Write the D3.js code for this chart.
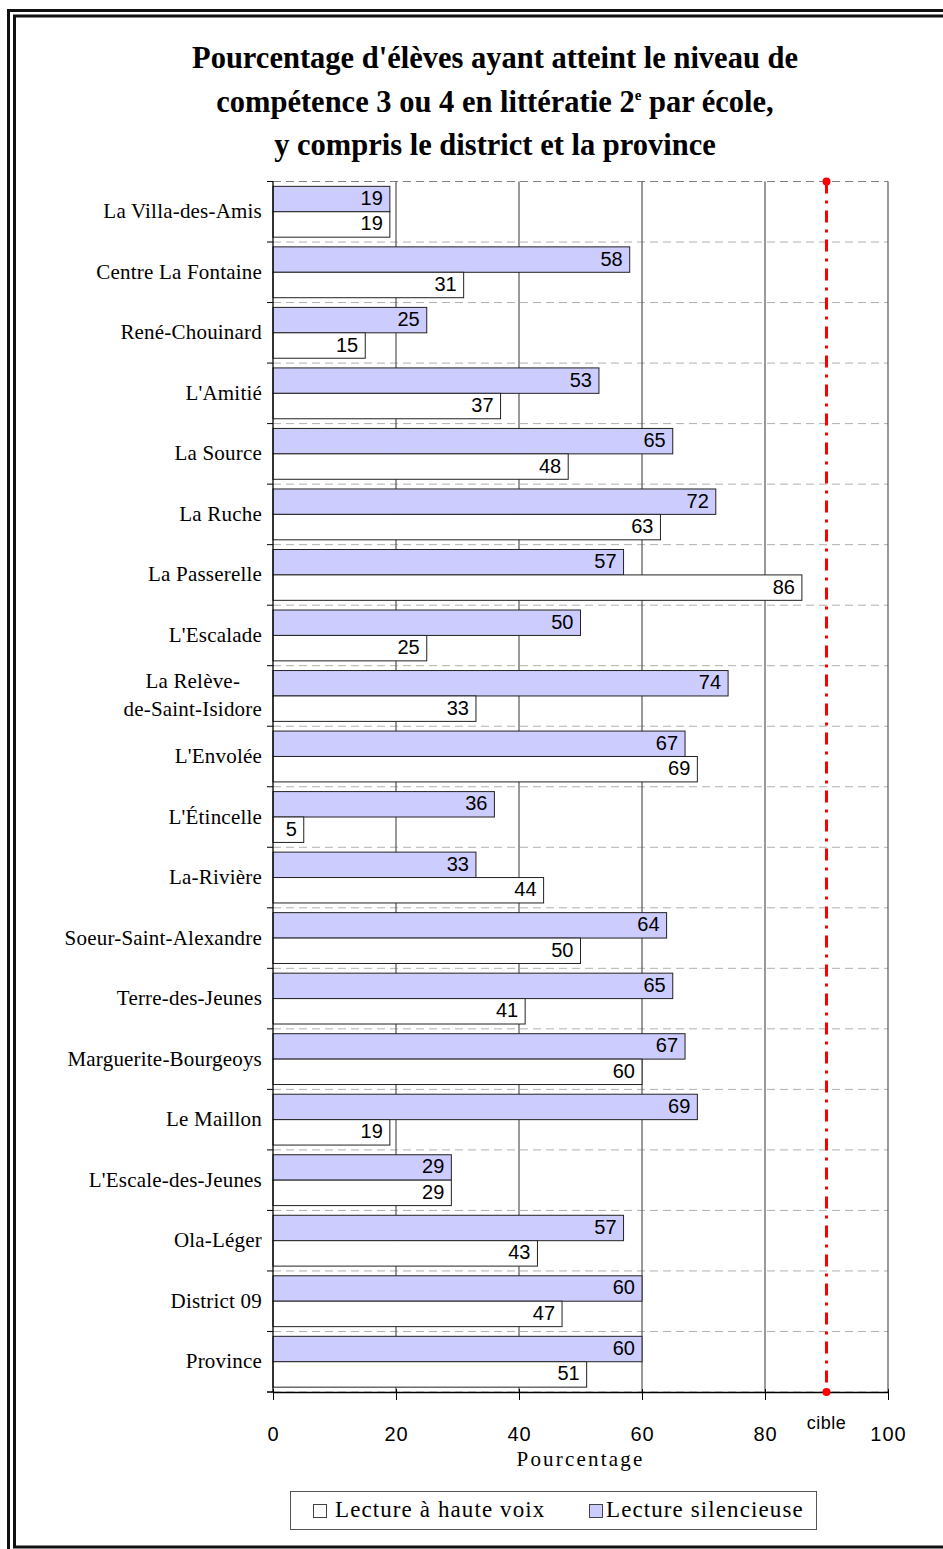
<!DOCTYPE html>
<html>
<head>
<meta charset="utf-8">
<script src="https://cdn.jsdelivr.net/npm/d3@7"></script>
<style>
  body { margin: 0; background: #fff; }
  svg { display: block; }
</style>
</head>
<body>
<div id="chart"></div>
<script>
// schools, then district and province
const categories = [
  "La Villa-des-Amis", "Centre La Fontaine", "René-Chouinard", "L'Amitié",
  "La Source", "La Ruche", "La Passerelle", "L'Escalade",
  "La Relève-\nde-Saint-Isidore", "L'Envolée", "L'Étincelle", "La-Rivière",
  "Soeur-Saint-Alexandre", "Terre-des-Jeunes", "Marguerite-Bourgeoys",
  "Le Maillon", "L'Escale-des-Jeunes", "Ola-Léger", "District 09", "Province"
];
const silentValues = [19, 58, 25, 53, 65, 72, 57, 50, 74, 67, 36, 33, 64, 65, 67, 69, 29, 57, 60, 60];
const loudValues   = [19, 31, 15, 37, 48, 63, 86, 25, 33, 69, 5, 44, 50, 41, 60, 19, 29, 43, 47, 51];
const xTicks = [0, 20, 40, 60, 80, 100];
const targetValue = 90;
const targetLabel = "cible";
const seriesNames = ["Lecture à haute voix", "Lecture silencieuse"];
const axisTitle = "Pourcentage";

const width = 943, height = 1549;
const serif = "'Liberation Serif', 'Times New Roman', serif";
const sans = "'Liberation Sans', Arial, sans-serif";
const blue = "#ccccff";

const svg = d3.select("#chart").append("svg")
  .attr("width", width).attr("height", height);

svg.append("rect").attr("width", width).attr("height", height).attr("fill", "#fff");

// double frame (runs off the right edge like the original)
svg.append("rect").attr("x", 8.5).attr("y", 10.5).attr("width", 980).attr("height", 1580)
  .attr("fill", "none").attr("stroke", "#111").attr("stroke-width", 3);
svg.append("rect").attr("x", 14.5).attr("y", 16).attr("width", 980).attr("height", 1531)
  .attr("fill", "none").attr("stroke", "#111").attr("stroke-width", 3);

// title
const title = svg.append("text")
  .attr("text-anchor", "middle")
  .style("font-family", serif).style("font-weight", "bold")
  .style("font-size", "30.5px");
title.append("tspan").attr("x", 495).attr("y", 68).text("Pourcentage d'élèves ayant atteint le niveau de");
const l2 = title.append("tspan").attr("x", 495).attr("y", 112);
l2.append("tspan").text("compétence 3 ou 4 en littératie 2");
l2.append("tspan").attr("dy", -12).style("font-size", "15px").text("e");
l2.append("tspan").attr("dy", 12).text(" par école,");
title.append("tspan").attr("x", 495).attr("y", 155).text("y compris le district et la province");

// scales
const x = d3.scaleLinear().domain([0, 100]).range([273, 888]);
const plotTop = 181.5, plotBottom = 1392;
const y = d3.scaleBand().domain(categories).range([plotTop, plotBottom])
  .paddingInner(0.16).paddingOuter(0.08);
const sub = d3.scaleBand().domain(["silent", "loud"]).range([0, y.bandwidth()]);
const step = y.step();
const boundaries = d3.range(categories.length + 1).map(i => plotTop + i * step);

const plot = svg.append("g");

// dashed horizontal lines at category boundaries
plot.selectAll("line.hgrid").data(boundaries).enter().append("line")
  .attr("class", "hgrid")
  .attr("x1", x(0)).attr("x2", x(100))
  .attr("y1", d => d).attr("y2", d => d)
  .attr("stroke", (d, i) => i === 0 ? "#808080" : "#b0b0b0")
  .attr("stroke-dasharray", "8,5");

// vertical grid
plot.selectAll("line.vgrid").data(xTicks.slice(1)).enter().append("line")
  .attr("class", "vgrid")
  .attr("x1", d => x(d)).attr("x2", d => x(d))
  .attr("y1", plotTop).attr("y2", plotBottom)
  .attr("stroke", "#555").attr("stroke-width", 1.2);

// bars
const rows = categories.map((c, i) => ({ cat: c, silent: silentValues[i], loud: loudValues[i] }));
const groups = plot.selectAll("g.row").data(rows).enter().append("g")
  .attr("class", "row")
  .attr("transform", d => `translate(0,${y(d.cat)})`);

["silent", "loud"].forEach(key => {
  groups.append("rect")
    .attr("x", x(0))
    .attr("y", sub(key))
    .attr("width", d => x(d[key]) - x(0))
    .attr("height", sub.bandwidth())
    .attr("fill", key === "silent" ? blue : "#fff")
    .attr("stroke", "#222").attr("stroke-width", 1);
  groups.append("text")
    .attr("x", d => x(d[key]) - 7)
    .attr("y", sub(key) + sub.bandwidth() / 2 + 6)
    .attr("text-anchor", "end")
    .style("font-family", sans).style("font-size", "20px")
    .attr("fill", "#000")
    .text(d => d3.format("d")(d[key]));
});

// y axis line + boundary ticks
plot.append("line").attr("x1", x(0)).attr("x2", x(0)).attr("y1", plotTop).attr("y2", plotBottom)
  .attr("stroke", "#000").attr("stroke-width", 1.3);
plot.selectAll("line.ytick").data(boundaries).enter().append("line")
  .attr("x1", x(0) - 6).attr("x2", x(0))
  .attr("y1", d => d).attr("y2", d => d)
  .attr("stroke", "#000");

// category labels
const catLabels = svg.selectAll("text.cat").data(categories).enter().append("text")
  .attr("class", "cat")
  .style("font-family", serif).style("font-size", "21px").style("letter-spacing", "0.2px")
  .attr("text-anchor", "end")
  .attr("fill", "#000");
catLabels.each(function(d) {
  const lines = d.split("\n");
  const cy = y(d) + y.bandwidth() / 2;
  const t = d3.select(this);
  if (lines.length === 1) {
    t.attr("x", 262).attr("y", cy + 6.5).text(d);
  } else {
    t.attr("text-anchor", "middle");
    const spans = lines.map((s, k) => t.append("tspan").attr("y", cy + 6.5 + (k - (lines.length - 1) / 2) * 28).text(s));
    const w = d3.max(spans, s => s.node().getComputedTextLength());
    spans.forEach(s => s.attr("x", 262 - w / 2));
  }
});

// x axis
const xAxis = svg.append("g").attr("transform", `translate(0,${plotBottom})`)
  .call(d3.axisBottom(x).tickValues(xTicks).tickSizeInner(8).tickSizeOuter(0).tickPadding(27));
xAxis.select(".domain").attr("stroke", "#000").attr("stroke-width", 1.3);
xAxis.selectAll(".tick line").attr("stroke", "#000").attr("y1", -3);
xAxis.selectAll(".tick text")
  .style("font-family", sans).style("font-size", "20px").style("letter-spacing", "1px")
  .attr("fill", "#000");
svg.append("line").attr("x1", x(0) - 6).attr("x2", x(0)).attr("y1", plotBottom).attr("y2", plotBottom).attr("stroke", "#000");

// target line
const tx = x(targetValue);
svg.append("line").attr("x1", tx).attr("x2", tx).attr("y1", plotTop).attr("y2", plotBottom)
  .attr("stroke", "#ff0000").attr("stroke-width", 3)
  .attr("stroke-dasharray", "12,7,3,7");
svg.selectAll("circle.tgt").data([plotTop, plotBottom]).enter().append("circle")
  .attr("cx", tx).attr("cy", d => d).attr("r", 4).attr("fill", "#ff0000");
svg.append("text").attr("x", tx).attr("y", 1429).attr("text-anchor", "middle")
  .style("font-family", sans).style("font-size", "18px").style("letter-spacing", "0.5px")
  .text(targetLabel);

// axis title
svg.append("text").attr("x", (x(0) + x(100)) / 2).attr("y", 1466).attr("text-anchor", "middle")
  .style("font-family", serif).style("font-size", "21px").style("letter-spacing", "2.2px")
  .text(axisTitle);

// legend
const legend = svg.append("g");
legend.append("rect").attr("x", 290.5).attr("y", 1491.5).attr("width", 526).attr("height", 38)
  .attr("fill", "#fff").attr("stroke", "#555");
const legendX = [313, 589];
const legendTextX = [335, 606];
const legendFill = ["#fff", blue];
seriesNames.forEach((name, i) => {
  legend.append("rect").attr("x", legendX[i] + 0.5).attr("y", 1504.5).attr("width", 13).attr("height", 13)
    .attr("fill", legendFill[i]).attr("stroke", "#444");
  legend.append("text").attr("x", legendTextX[i]).attr("y", 1517)
    .style("font-family", serif).style("font-size", "23px").style("letter-spacing", "1.1px")
    .text(name);
});
</script>
</body>
</html>
